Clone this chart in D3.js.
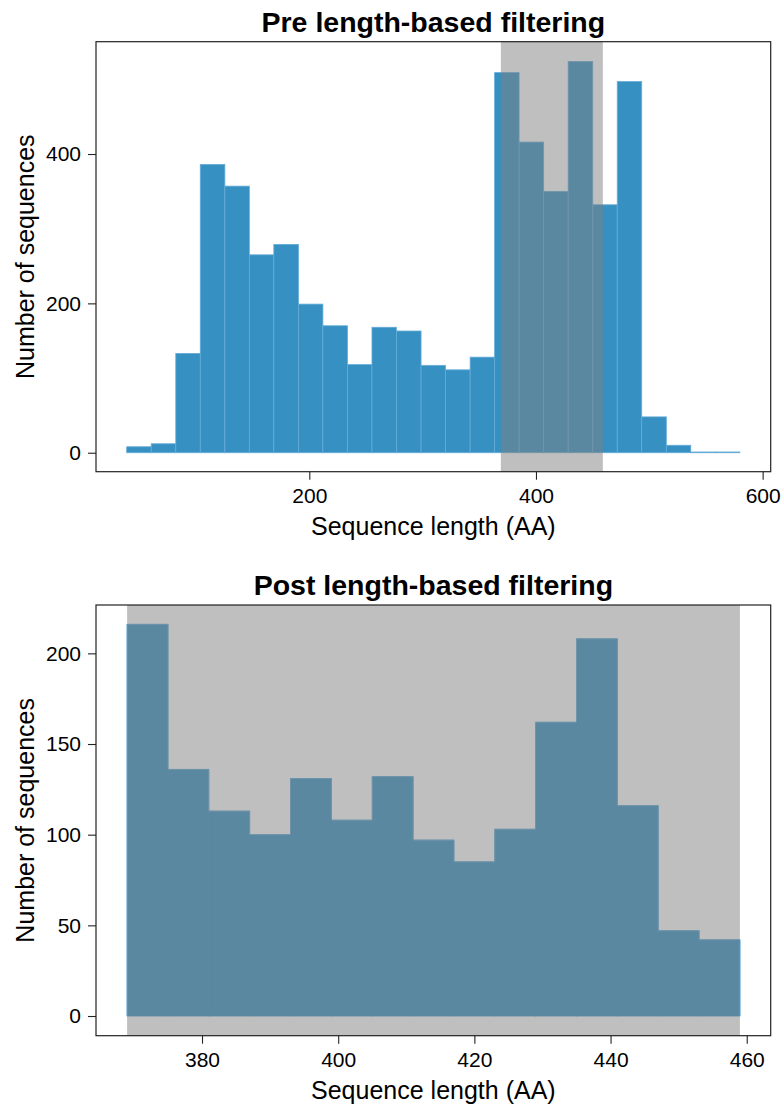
<!DOCTYPE html>
<html>
<head>
<meta charset="utf-8">
<script src="https://cdn.jsdelivr.net/npm/d3@7"></script>
<style>
  body { margin: 0; background: #fff; }
  svg { display: block; }
  text { font-family: 'Liberation Sans', Arial, Helvetica, sans-serif; fill: #000; }
</style>
</head>
<body>
<svg id="chart" width="782" height="1106"></svg>
<script>
// histogram before filtering (bin edges in AA, counts per bin)
const preEdges = [38.9, 60.5, 82.2, 103.8, 125.5, 147.1, 168.7, 190.4, 212.0, 233.7, 255.3, 276.9, 298.6,
  320.2, 341.9, 363.5, 385.1, 406.8, 428.4, 450.1, 471.7, 493.3, 515.0, 536.6, 558.3, 579.9];
const preCounts = [8, 12, 133, 386, 357, 265, 279, 199, 170, 118, 168, 163, 117, 111, 128,
  509, 416, 350, 524, 332, 497, 48, 10, 1, 1];
const preXTicks = [200, 400, 600];
const preYTicks = [0, 200, 400];

// histogram after filtering
const postEdges = [369, 375, 381, 387, 393, 399, 405, 411, 417, 423, 429, 435, 441, 447, 453, 459];
const postCounts = [216, 136, 113, 100, 131, 108, 132, 97, 85, 103, 162, 208, 116, 47, 42];
const postXTicks = [380, 400, 420, 440, 460];
const postYTicks = [0, 50, 100, 150, 200];

// kept length window
const keptRange = [369, 459];

const config = {
  'bar': '#3690c2',
  'bar-stroke': '#64acd8',
  'band': '#808080',
  'band-opacity': 0.5,
  'frame': '#222',
  'tick-size': 8,
  'tick-font': '21px',
  'label-font': '25px',
  'title-font': '28.5px'
};

const svg = d3.select('#chart');

function drawPanel(p) {
  const x = d3.scaleLinear().domain(p.xDomain).range([p.left, p.right]);
  const y = d3.scaleLinear().domain(p.yDomain).range([p.bottom, p.top]);
  const g = svg.append('g');

  const bins = p.counts.map((c, i) => ({ x0: p.edges[i], x1: p.edges[i + 1], n: c }));

  g.append('g')
    .selectAll('rect')
    .data(bins)
    .enter()
    .append('rect')
    .attr('x', d => x(d.x0))
    .attr('width', d => x(d.x1) - x(d.x0))
    .attr('y', d => y(d.n))
    .attr('height', d => y(0) - y(d.n))
    .attr('fill', config['bar'])
    .attr('stroke', p.innerStroke ? config['bar-stroke'] : config['bar'])
    .attr('stroke-width', 0.8);

  if (!p.innerStroke) {
    // outline only along the step top
    const pts = [[p.edges[0], 0]];
    bins.forEach(b => { pts.push([b.x0, b.n]); pts.push([b.x1, b.n]); });
    pts.push([p.edges[p.edges.length - 1], 0]);
    g.append('path')
      .attr('d', d3.line().x(d => x(d[0])).y(d => y(d[1]))(pts))
      .attr('fill', 'none')
      .attr('stroke', config['bar-stroke'])
      .attr('stroke-width', 0.8);
  }

  g.append('rect')
    .attr('x', x(keptRange[0]))
    .attr('width', x(keptRange[1]) - x(keptRange[0]))
    .attr('y', p.top)
    .attr('height', p.bottom - p.top)
    .attr('fill', config['band'])
    .attr('fill-opacity', config['band-opacity']);

  const xAxis = g.append('g')
    .attr('transform', `translate(0,${p.bottom})`)
    .call(d3.axisBottom(x).tickValues(p.xTicks).tickSize(config['tick-size']).tickSizeOuter(0).tickPadding(8));
  const yAxis = g.append('g')
    .attr('transform', `translate(${p.left},0)`)
    .call(d3.axisLeft(y).tickValues(p.yTicks).tickSize(config['tick-size']).tickSizeOuter(0).tickPadding(7));

  [xAxis, yAxis].forEach(a => {
    a.attr('font-size', null).attr('font-family', null);
    a.select('.domain').remove();
    a.selectAll('line').attr('stroke', config['frame']).attr('stroke-width', 1.1);
    a.selectAll('text')
      .style('font-size', config['tick-font'])
      .attr('fill', '#000');
  });

  g.append('rect')
    .attr('x', p.left)
    .attr('y', p.top)
    .attr('width', p.right - p.left)
    .attr('height', p.bottom - p.top)
    .attr('fill', 'none')
    .attr('stroke', config['frame'])
    .attr('stroke-width', 1.2);

  const cx = (p.left + p.right) / 2;

  g.append('text')
    .attr('x', cx)
    .attr('y', p.top - 10)
    .attr('text-anchor', 'middle')
    .style('font-size', config['title-font'])
    .style('font-weight', 'bold')
    .text(p.title);

  g.append('text')
    .attr('x', cx)
    .attr('y', p.bottom + 63)
    .attr('text-anchor', 'middle')
    .style('font-size', config['label-font'])
    .text('Sequence length (AA)');

  g.append('text')
    .attr('transform', `translate(33.5,${(p.top + p.bottom) / 2}) rotate(-90)`)
    .attr('text-anchor', 'middle')
    .style('font-size', config['label-font'])
    .text('Number of sequences');
}

drawPanel({
  title: 'Pre length-based filtering',
  edges: preEdges,
  counts: preCounts,
  xTicks: preXTicks,
  yTicks: preYTicks,
  xDomain: [11.8, 607.1],
  yDomain: [-25.4, 550.4],
  left: 96, right: 770.7, top: 41.7, bottom: 471.7,
  innerStroke: true
});

drawPanel({
  title: 'Post length-based filtering',
  edges: postEdges,
  counts: postCounts,
  xTicks: postXTicks,
  yTicks: postYTicks,
  xDomain: [364.43, 463.52],
  yDomain: [-10.86, 226.66],
  left: 96, right: 770.7, top: 605, bottom: 1035.7,
  innerStroke: false
});
</script>
</body>
</html>
